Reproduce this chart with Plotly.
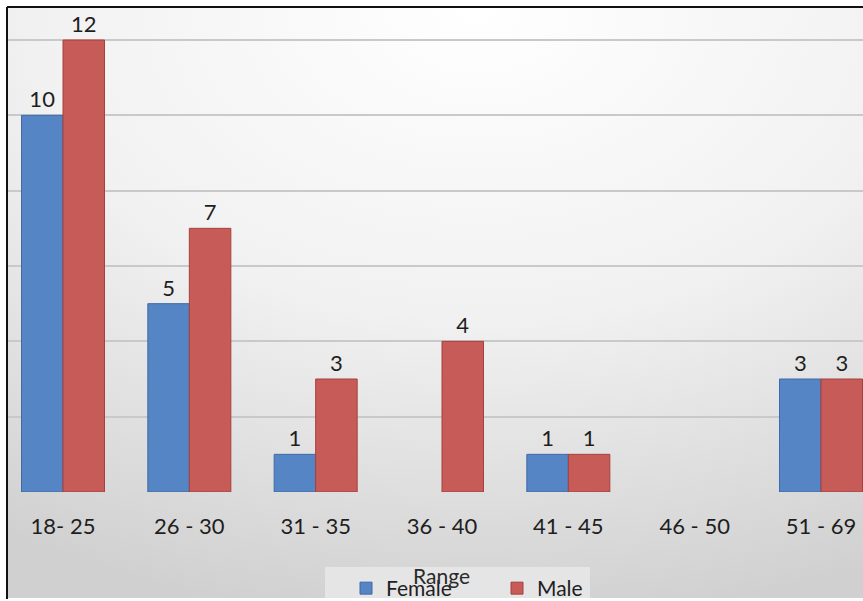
import base64
import plotly.graph_objects as go

# Age ranges and head counts per gender
age_ranges = ["18- 25", "26 - 30", "31 - 35", "36 - 40", "41 - 45", "46 - 50", "51 - 69"]
female = [10, 5, 1, 0, 1, 0, 3]
male = [12, 7, 3, 4, 1, 0, 3]

BLUE = "#5585c4"
RED = "#c65b58"
FONT = "Lato"

# Plot area geometry (pixels)
W, H = 863, 601
L, R, T, B = 8, 0, 8, 109
PW, PH = W - L - R, H - T - B


def px_x(p):
    return (p - L) / PW


def px_y(p):
    return 1 - (p - T) / PH


# Soft radial backdrop behind the chart body
svg = (
    '<svg xmlns="http://www.w3.org/2000/svg" width="855" height="591" '
    'preserveAspectRatio="none">'
    '<defs><radialGradient id="g" cx="0.55" cy="0.0" r="1.05">'
    '<stop offset="0" stop-color="#ffffff"/>'
    '<stop offset="0.5" stop-color="#f1f1f1"/>'
    '<stop offset="1" stop-color="#d0d0d0"/>'
    '</radialGradient></defs>'
    '<rect width="855" height="591" fill="url(#g)"/></svg>'
)
bg_src = "data:image/svg+xml;base64," + base64.b64encode(svg.encode()).decode()

labels_f = [str(v) if v else "" for v in female]
labels_m = [str(v) if v else "" for v in male]
edge_f = [1 if v else 0 for v in female]
edge_m = [1 if v else 0 for v in male]

fig = go.Figure()
fig.add_trace(go.Bar(
    name="Female", x=age_ranges, y=female, text=labels_f,
    textposition="outside", cliponaxis=False,
    marker=dict(color=BLUE, line=dict(color="#3f6aa5", width=edge_f)),
    textfont=dict(family=FONT, size=22, color="#1e1e1e"),
))
fig.add_trace(go.Bar(
    name="Male", x=age_ranges, y=male, text=labels_m,
    textposition="outside", cliponaxis=False,
    marker=dict(color=RED, line=dict(color="#a5403d", width=edge_m)),
    textfont=dict(family=FONT, size=22, color="#1e1e1e"),
))

# Category 0 centred at x=63px, category 6 at x=821px
unit = (821 - 63) / 6
x0 = -(63 - L) / unit
x1 = x0 + PW / unit
y_top = (492 - T) / ((492 - 40) / 12)

fig.update_layout(
    width=W, height=H,
    margin=dict(l=L, r=R, t=T, b=B, pad=0, autoexpand=False),
    paper_bgcolor="white",
    plot_bgcolor="rgba(0,0,0,0)",
    barmode="group", bargap=0.343, bargroupgap=0,
    font=dict(family=FONT, size=21, color="#1e1e1e"),
    xaxis=dict(range=[x0, x1], showgrid=False, zeroline=False, showline=False,
               ticks="", ticklabelstandoff=19,
               tickfont=dict(family=FONT, size=22, color="#1e1e1e")),
    yaxis=dict(range=[0, y_top], dtick=2, showticklabels=False, zeroline=False,
               showgrid=True, gridcolor="#c9c9c9", gridwidth=2, showline=False),
    showlegend=True,
    legend=dict(orientation="h", x=px_x(346), y=px_y(568), xanchor="left", yanchor="top",
                bgcolor="rgba(0,0,0,0)", borderwidth=0, entrywidth=106,
                font=dict(family=FONT, size=21, color="#1e1e1e"),
                itemclick=False, itemdoubleclick=False),
    images=[dict(source=bg_src, xref="paper", yref="paper",
                 x=0, y=1, sizex=1, sizey=(598 - T) / PH,
                 xanchor="left", yanchor="top", sizing="stretch", layer="below")],
    shapes=[
        # legend panel
        dict(type="rect", xref="paper", yref="paper", layer="below",
             x0=px_x(325), x1=px_x(590), y0=px_y(567), y1=px_y(598),
             fillcolor="#e5e5e5", line=dict(width=0)),
        # frame edges
        dict(type="line", xref="paper", yref="paper",
             x0=px_x(7), x1=px_x(7), y0=px_y(7), y1=px_y(599),
             line=dict(color="#111111", width=2)),
        dict(type="line", xref="paper", yref="paper",
             x0=px_x(7), x1=1, y0=px_y(7), y1=px_y(7),
             line=dict(color="#111111", width=2)),
    ],
    annotations=[dict(text="Range", xref="paper", yref="paper",
                      x=px_x(442), y=px_y(575), xanchor="center", yanchor="middle",
                      showarrow=False,
                      font=dict(family=FONT, size=21, color="#2a2a2a"))],
)

fig.write_html("out.html")
